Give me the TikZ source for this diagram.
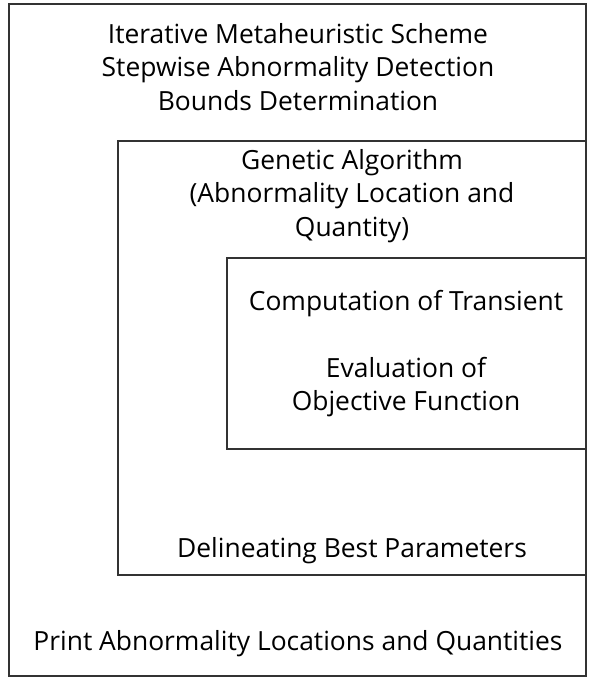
\documentclass[tikz,border=0pt]{standalone}
\usepackage{fontspec}
\setmainfont{Open Sans}
\tikzset{
  box/.style={draw=black!80,line width=0.9pt},
  lbl/.style={align=center,inner sep=0pt,font=\fontsize{13.2}{16.6}\selectfont}
}
\begin{document}
\begin{tikzpicture}[x=0.5pt,y=-0.5pt]
        \useasboundingbox (0,0) rectangle (593,678);
        % nested boxes
        \draw[box] (9,4) rectangle (586,676);
        \draw[box] (586,141) -- (118,141) -- (118,575) -- (586,575);
        \draw[box] (586,258) -- (227,258) -- (227,449) -- (586,449);
        % texts
        \node[lbl] (scheme) at (298,67) {Iterative Metaheuristic Scheme\\Stepwise Abnormality Detection\\Bounds Determination};
        \node[lbl] (ga) at (352,196) {Genetic Algorithm\\(Abnormality Location and\\Quantity)};
        \node[lbl] (transient) at (406,304) {Computation of Transient};
        \node[lbl] (objective) at (406,387) {Evaluation of\\Objective Function};
        \node[lbl] (best) at (352,551) {Delineating Best Parameters};
        \node[lbl] (print) at (298,644) {Print Abnormality Locations and Quantities};
    \end{tikzpicture}
\end{document}
